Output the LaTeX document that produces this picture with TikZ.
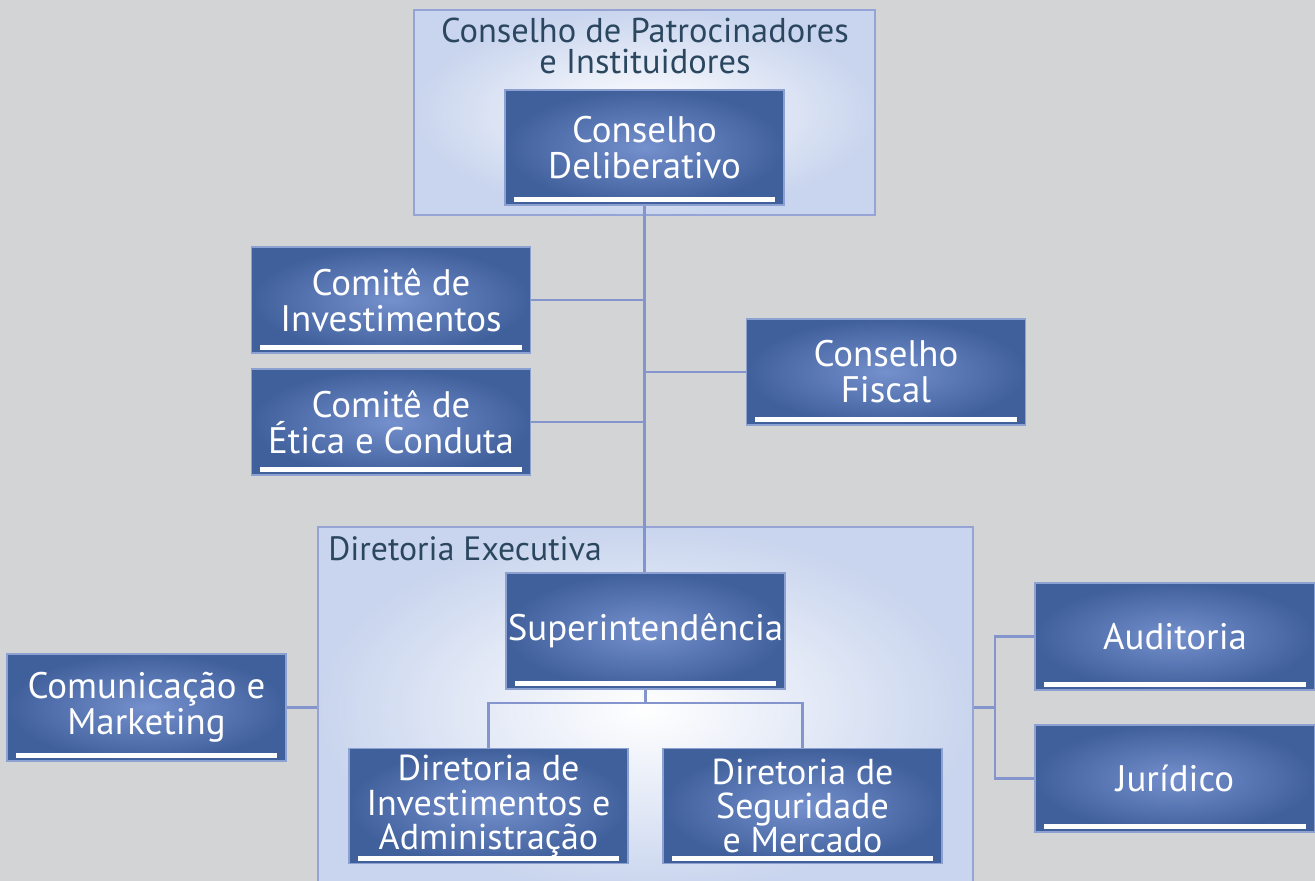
\documentclass[tikz,border=0pt]{standalone}
\usepackage{fontspec}
\setmainfont{PT Sans}
\usepackage{xcolor}
\usepackage{tikz}
\definecolor{chartbg}{RGB}{211,212,214}
\definecolor{boxdark}{RGB}{64,96,156}
\definecolor{boxlight}{RGB}{116,144,205}
\definecolor{boxedge}{RGB}{140,160,210}
\definecolor{groupedge}{RGB}{201,213,238}
\definecolor{groupline}{RGB}{150,163,213}
\definecolor{titleink}{RGB}{43,71,96}
\definecolor{linkblue}{RGB}{132,148,204}

\begin{document}
\begin{tikzpicture}[x=0.02cm, y=-0.02cm,
    unit/.style={draw=boxedge, line width=0.7pt, inner color=boxlight, outer color=boxdark,
        text=white, align=center, minimum width=5.58cm, minimum height=2.14cm,
        font=\fontsize{21}{20.5}\selectfont,
        path picture={\fill[white] ([xshift=0.17cm,yshift=0.05cm]path picture bounding box.south west)
            rectangle ([xshift=-0.17cm,yshift=0.15cm]path picture bounding box.south east);}},
    group/.style={draw=groupline, line width=0.8pt, inner color=white, outer color=groupedge},
    grouptitle/.style={text=titleink, align=center, inner sep=0pt, font=\fontsize{19.6}{17.8}\selectfont},
    link/.style={draw=linkblue, line width=1.25pt}]
    % canvas
    \fill[chartbg] (0,0) rectangle (1315,881);
    \useasboundingbox (0,0) rectangle (1315,881);

    % Groups
    \node[group, minimum width=9.22cm, minimum height=4.1cm] (patro) at (644.5,112.5) {};
    \node[grouptitle] (patrotitle) at (645,46) {Conselho de Patrocinadores\\e Instituidores};
    \node[group, minimum width=13.1cm, minimum height=7.28cm] (direx) at (645.5,709) {};
    \node[grouptitle, anchor=west, font=\fontsize{19.2}{17.8}\selectfont] (direxttitle) at (328,549) {Diretoria Executiva};

    % Councils and committees
    \node[unit, minimum height=2.3cm] (delib) at (644.5,147.5) {Conselho\\Deliberativo};
    \node[unit, minimum height=2.12cm] (cinv) at (391,300) {Comitê de\\Investimentos};
    \node[unit, minimum height=2.12cm] (cetica) at (391,422) {Comitê de\\Ética e Conduta};
    \node[unit, minimum height=2.12cm] (fiscal) at (886,372) {Conselho\\Fiscal};

    % Executive board
    \node[unit, minimum height=2.32cm, inner xsep=1pt] (sup) at (645.5,631) {\raisebox{0.18cm}{Superintendência}};
    \node[unit, minimum height=2.3cm, font=\fontsize{20.5}{19.5}\selectfont] (dinv) at (488.5,806) {Diretoria de\\Investimentos e\\Administração};
    \node[unit, minimum height=2.3cm, font=\fontsize{20.5}{19.5}\selectfont] (dseg) at (802.5,806) {Diretoria de\\Seguridade\\e Mercado};

    % Staff units
    \node[unit] (com) at (146.5,707.5) {Comunicação e\\Marketing};
    \node[unit, minimum width=5.6cm] (aud) at (1175,636.5) {Auditoria};
    \node[unit, minimum width=5.6cm] (jur) at (1175,778.5) {Jurídico};
    \coordinate (fork) at (995,707.5);

    % Links
    \draw[link] (delib.south) -- (delib.south |- sup.north);
    \draw[link] (cinv.east) -- (cinv.east -| delib.south);
    \draw[link] (cetica.east) -- (cetica.east -| delib.south);
    \draw[link] (fiscal.west) -- (fiscal.west -| delib.south);
    \draw[link] (sup.south) -- ++(0,13) -| (dinv.north);
    \draw[link] (sup.south) -- ++(0,13) -| (dseg.north);
    \draw[link] (com.east) -- (com.east -| direx.west);
    \draw[link] (direx.east |- fork) -- (fork);
    \draw[link] (aud.west) -| (fork) |- (jur.west);
\end{tikzpicture}
\end{document}
